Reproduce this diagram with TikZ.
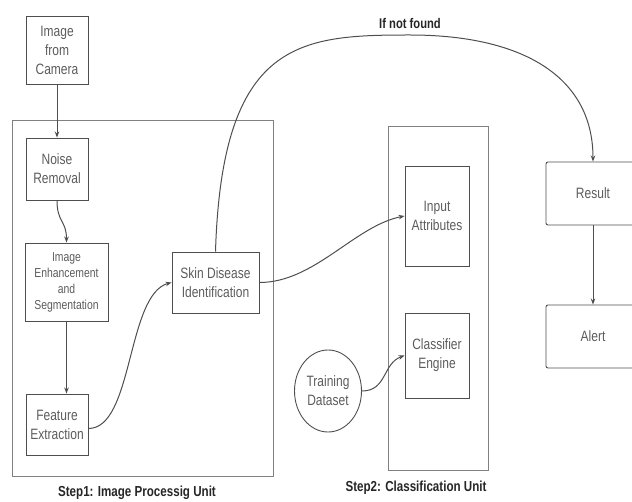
\documentclass[tikz,border=0pt]{standalone}
\usepackage{fontspec}
\setmainfont{Liberation Sans}[FakeStretch=0.8]
\usepackage{xcolor}
\usetikzlibrary{arrows.meta,shapes.geometric}
\definecolor{linegray}{HTML}{4E4E4E}
\definecolor{textgray}{HTML}{5C5C5C}
\definecolor{framegray}{HTML}{808080}

\begin{document}
\begin{tikzpicture}[x=1pt,y=-1pt,
  arr/.style={-{Stealth[length=6pt,width=4.5pt]},line width=1pt,linegray},
  blk/.style={draw=linegray,line width=0.9pt,text=textgray,align=center,inner sep=1pt,
    font=\fontsize{15}{19}\selectfont},
  unit/.style={draw=framegray,line width=0.8pt,inner sep=0pt},
  ttl/.style={font=\fontsize{14.5}{17}\selectfont\bfseries,text=black!85}]
  \useasboundingbox (0,0) rectangle (632,502);
  \clip (0,0) rectangle (632,502);

  % Unit frames
  \node[unit,minimum width=261pt,minimum height=356pt] (unitA) at (142.5,298) {};
  \node[unit,minimum width=100pt,minimum height=344pt] (unitB) at (438,298) {};
  \node[ttl] (stepA) at (137,493) {Step1: Image Processig Unit};
  \node[ttl] (stepB) at (416,488) {Step2: Classification Unit};

  % Image processing blocks
  \node[blk,minimum width=62pt,minimum height=68pt] (cam) at (57,50) {Image\\from\\Camera};
  \node[blk,minimum width=62pt,minimum height=62pt] (noise) at (57,169) {Noise\\Removal};
  \node[blk,minimum width=83pt,minimum height=78pt,font=\fontsize{13}{16}\selectfont]
    (enhance) at (66.5,282) {Image\\Enhancement\\and\\Segmentation};
  \node[blk,minimum width=62pt,minimum height=61pt] (feature) at (57,424.5) {Feature\\Extraction};
  \node[blk,minimum width=87pt,minimum height=61pt] (skin) at (215.5,282.5) {Skin Disease\\Identification};

  % Classification blocks
  \node[blk,minimum width=64pt,minimum height=100pt] (inattr) at (437,216) {Input\\Attributes};
  \node[blk,minimum width=64pt,minimum height=85pt] (engine) at (437,355.5) {Classifier\\Engine};
  \node[blk,ellipse,minimum width=67pt,minimum height=82pt,inner sep=0pt] (train) at (328,391) {Training\\Dataset};

  % Output blocks
  \node[blk,rounded corners=2pt,minimum width=94pt,minimum height=63pt] (result) at (593,193.5) {Result};
  \node[blk,rounded corners=2pt,minimum width=94pt,minimum height=63pt] (alert) at (593,336.5) {Alert};

  % Arc label
  \coordinate (apex) at (410,35);
  \node[ttl,font=\fontsize{14}{16}\selectfont\bfseries] (notfound) at (410,24) {If not found};

  % Connectors
  \draw[arr] (cam) -- (noise);
  \draw[arr] (noise.south) .. controls +(0,22) and +(0,-22) .. (enhance.north);
  \draw[arr] (enhance.south) -- (enhance.south |- feature.north);
  \draw[arr] ([yshift=-4pt]feature.east) .. controls +(45,0) and +(-45,12) .. (skin.west);
  \draw[arr] (skin.east) .. controls +(55,0) and +(-50,10) .. (inattr.west);
  \draw[arr] (train.east) .. controls +(25,0) and +(-22,8) .. (engine.west);
  \draw[arr] (skin.north) .. controls (222,40) and (300,35) .. (apex)
    .. controls (520,35) and (593,75) .. (result.north);
  \draw[arr] (result) -- (alert);

\end{tikzpicture}
\end{document}
